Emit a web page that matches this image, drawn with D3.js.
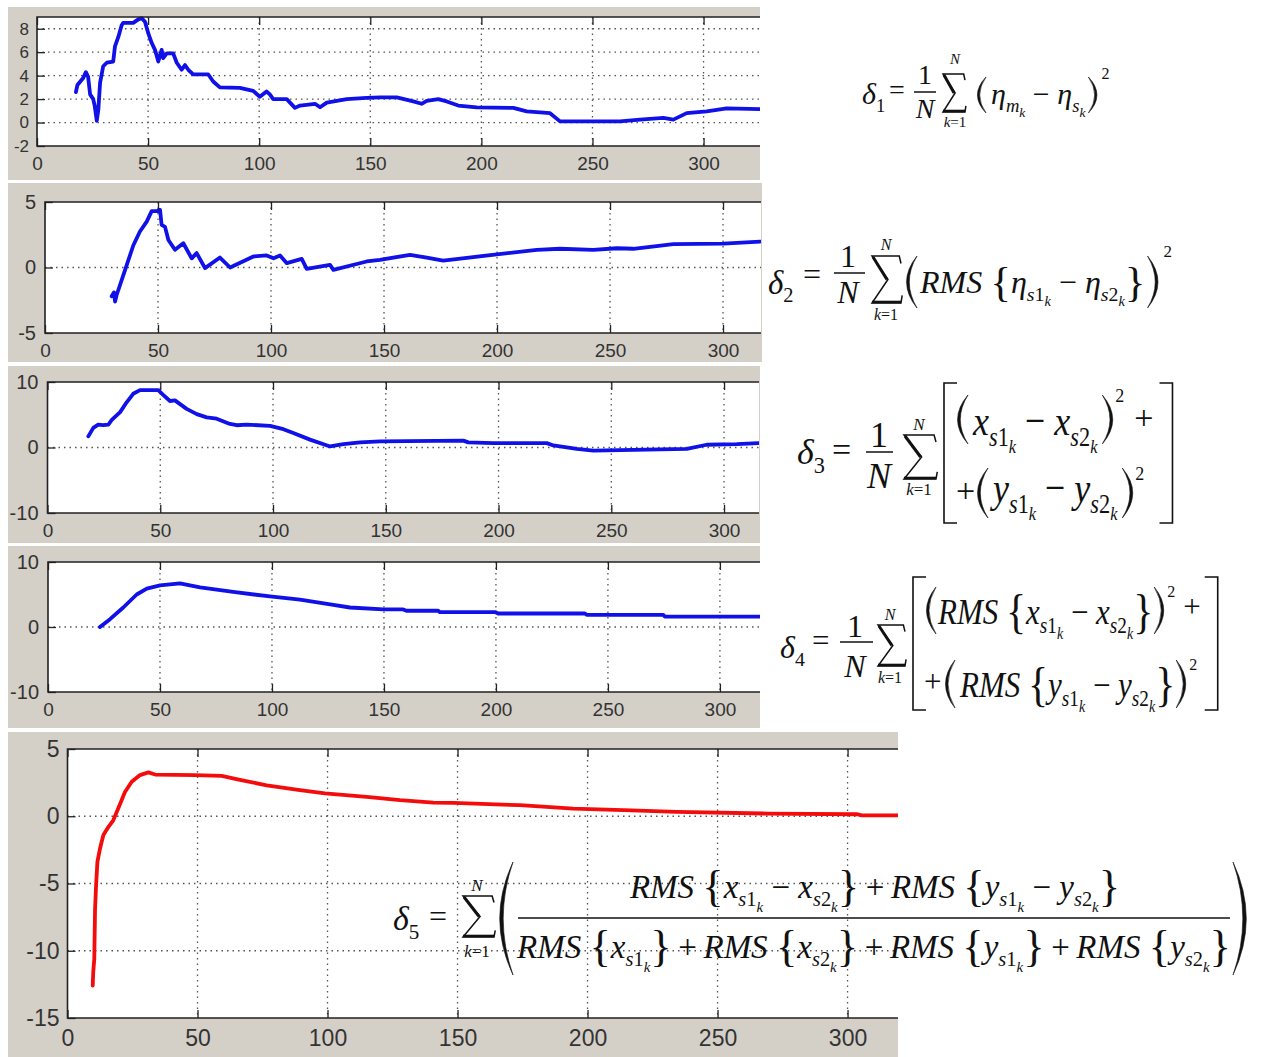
<!DOCTYPE html>
<html>
<head>
<meta charset="utf-8">
<script src="https://cdn.jsdelivr.net/npm/d3@7"></script>
<style>
  body { margin: 0; background: #fff; }
  svg { display: block; }
  .tick text { font-family: "Liberation Sans", Arial, sans-serif; fill: #333; }
  .tick line { stroke: #222; stroke-width: 1.3; }
  .math { font-family: "Liberation Serif", "Times New Roman", serif; fill: #111; white-space: pre; }
</style>
</head>
<body>
<svg id="chart" width="1263" height="1057"></svg>
<script>

// ---- values ----
const xTicks = [0, 50, 100, 150, 200, 250, 300]
const yTicks1 = [-2, 0, 2, 4, 6, 8]
const yTicks2 = [-5, 0, 5]
const yTicks3 = [-10, 0, 10]
const yTicks5 = [-15, -10, -5, 0, 5]

const delta1 = [[17.5,2.6],[18.2,3.2],[20.8,3.8],[22,4.3],[23,3.9],[23.9,2.4],[25.3,2.0],[26,1.4],[26.9,0.15],[27.6,1.1],[28.4,3.4],[29.8,4.8],[31.4,5.1],[34.3,5.2],[35.1,6.5],[36.6,7.3],[38.1,8.3],[38.8,8.5],[43.3,8.5],[45.6,8.8],[47.1,8.9],[48.6,8.6],[50.1,7.6],[51.6,6.8],[53.1,6.2],[54.6,5.2],[56.1,6.2],[56.8,5.5],[58.4,5.9],[61.3,5.9],[62.9,5.1],[65.1,4.5],[66.6,4.9],[68.1,4.5],[70.3,4.1],[77.1,4.1],[79.3,3.5],[82.3,3.0],[91.3,2.95],[97.3,2.7],[100.3,2.2],[103.3,2.65],[104.8,2.4],[106.3,2.0],[112.4,2.0],[116.1,1.25],[118.4,1.45],[125.1,1.6],[127.4,1.3],[130.4,1.7],[139.4,2.0],[148.4,2.1],[154.4,2.15],[161.9,2.15],[169.4,1.8],[173.1,1.6],[175.4,1.85],[180.6,2.0],[184.4,1.8],[189.6,1.45],[197.9,1.3],[214.4,1.25],[220.4,0.95],[230.9,0.8],[235.4,0.1],[262.4,0.1],[271.4,0.25],[281.9,0.4],[286.4,0.25],[292.4,0.8],[301.4,0.95],[310.4,1.2],[325.4,1.15]]

const delta2 = [[29.5,-2.2],[30.5,-1.9],[31,-2.6],[31.7,-2.1],[34.7,-0.56],[39.1,1.7],[42,2.75],[45,3.5],[47.2,4.3],[49.4,4.3],[50.9,4.4],[51.6,3.25],[53.1,3.1],[54.6,2.1],[57.5,1.35],[61.2,1.85],[64.9,0.7],[67.1,1.1],[70.8,-0.05],[77.4,0.76],[81.9,0],[92.2,0.84],[98.1,0.92],[101.1,0.7],[104,0.92],[107,0.33],[113.6,0.66],[115.8,-0.1],[126.1,0.2],[127.6,-0.18],[142.3,0.46],[148.2,0.59],[161.5,0.97],[168.9,0.76],[176.2,0.53],[199.9,1.0],[217.6,1.35],[227.9,1.43],[242.6,1.35],[253,1.47],[260.3,1.43],[278,1.78],[300.1,1.83],[316.4,1.98]]

const delta3 = [[18.1,1.7],[20.3,3.0],[22.5,3.5],[24.7,3.4],[27,3.5],[28.5,4.2],[32.2,5.4],[35.1,6.9],[38,8.2],[41,8.75],[49.1,8.75],[51.4,8.0],[54.3,7.1],[56.5,7.2],[61.7,5.9],[66.2,5.1],[70.6,4.6],[75,4.4],[80.9,3.6],[83.9,3.4],[88.3,3.5],[98.7,3.3],[104.6,2.8],[109,2.2],[116.4,1.2],[125.3,0.16],[131.2,0.5],[138.6,0.78],[147.5,0.94],[184.4,1.05],[186.6,0.78],[197.7,0.67],[221.4,0.67],[224.3,0.31],[234.7,-0.2],[242,-0.47],[259.8,-0.36],[283.5,-0.2],[292.3,0.42],[305.6,0.5],[315.2,0.67]]

const delta4 = [[23.2,0],[27.7,1.2],[33.6,3.0],[39.6,5.0],[44.1,5.9],[50,6.4],[58.9,6.7],[67.9,6.1],[82.7,5.4],[99.1,4.7],[112.5,4.2],[127.4,3.4],[134.8,3.0],[149.7,2.7],[158.6,2.7],[160,2.5],[174.2,2.5],[175,2.28],[199.6,2.3],[201,2.08],[239.7,2.08],[240.5,1.87],[274.7,1.87],[275.4,1.61],[317.9,1.61]]

const delta5 = [[9.7,-12.6],[9.9,-11.6],[10.3,-10.6],[10.6,-6.9],[11,-5.1],[11.5,-3.4],[12.5,-2.4],[13.8,-1.4],[15.7,-0.8],[17.6,-0.3],[19.5,0.57],[22.1,1.8],[24.7,2.56],[27.9,3.06],[31.1,3.26],[33.7,3.1],[49,3.06],[59.3,3.0],[66.3,2.7],[76.6,2.3],[89.4,1.94],[99,1.7],[115.1,1.44],[127.9,1.2],[140.7,1.02],[148.4,0.99],[174,0.82],[194.5,0.57],[213.8,0.45],[234.3,0.32],[268.9,0.2],[303.5,0.15],[305.5,0.07],[319.5,0.07]]

// ---- layout ----
const svg = d3.select('#chart')
const panelGray = '#d4d0c8'
const gridColor = '#555'
const blue = '#1010e8'
const red = '#f40c0c'

const panels = [
  {data: delta1, color: blue, yTicks: yTicks1, yDom: [-2, 9], xMax: 325.4,
    bg: [8, 7, 760, 180], box: [37, 17, 760, 146], fx: 19, fy: 17, padX: 11, padY: 8},
  {data: delta2, color: blue, yTicks: yTicks2, yDom: [-5, 5], xMax: 316.8,
    bg: [8, 183, 762, 362], box: [45, 202, 761, 333], fx: 19, fy: 20, padX: 11, padY: 9},
  {data: delta3, color: blue, yTicks: yTicks3, yDom: [-10, 10], xMax: 315.5,
    bg: [8, 366, 760, 543], box: [47.5, 382, 759, 513], fx: 19, fy: 20, padX: 11, padY: 9},
  {data: delta4, color: blue, yTicks: yTicks3, yDom: [-10, 10], xMax: 317.9,
    bg: [8, 546, 760, 728], box: [48, 562, 760, 692], fx: 19, fy: 20, padX: 11, padY: 9},
  {data: delta5, color: red, yTicks: yTicks5, yDom: [-15, 5], xMax: 319.4,
    bg: [8, 732, 898, 1057], box: [67.5, 749, 898, 1018], fx: 23, fy: 23, padX: 12, padY: 8}
]

function drawPanel(p, i) {
  const g = svg.append('g')
  const [bx0, by0, bx1, by1] = p.bg
  const [l, t, r, b] = p.box
  g.append('rect').attr('x', bx0).attr('y', by0).attr('width', bx1 - bx0).attr('height', by1 - by0)
    .attr('fill', panelGray)
  g.append('rect').attr('x', l).attr('y', t).attr('width', r - l).attr('height', b - t)
    .attr('fill', '#fff')

  const x = d3.scaleLinear().domain([0, p.xMax]).range([l, r])
  const y = d3.scaleLinear().domain(p.yDom).range([b, t])

  // dotted grid
  g.selectAll('.gx').data(xTicks.filter(v => v > 0 && v < p.xMax)).enter().append('line')
    .attr('x1', d => x(d)).attr('x2', d => x(d)).attr('y1', t).attr('y2', b)
    .attr('stroke', gridColor).attr('stroke-width', 1.3).attr('stroke-dasharray', '1.5,4')
  g.selectAll('.gy').data(p.yTicks.filter(v => v > p.yDom[0] && v < p.yDom[1])).enter().append('line')
    .attr('x1', l).attr('x2', r).attr('y1', d => y(d)).attr('y2', d => y(d))
    .attr('stroke', gridColor).attr('stroke-width', 1.3).attr('stroke-dasharray', '1.5,4')

  const clipId = 'clip' + i
  svg.append('clipPath').attr('id', clipId).append('rect')
    .attr('x', l).attr('y', t - 2).attr('width', r - l).attr('height', b - t + 4)

  const line = d3.line().x(d => x(d[0])).y(d => y(d[1]))
  g.append('path').datum(p.data)
    .attr('clip-path', 'url(#' + clipId + ')')
    .attr('fill', 'none').attr('stroke', p.color).attr('stroke-width', 3.8)
    .attr('stroke-linejoin', 'round').attr('stroke-linecap', 'round')
    .attr('d', line)

  const fmt = d => String(d)
  g.append('g').attr('transform', 'translate(0,' + b + ')')
    .call(d3.axisBottom(x).tickValues(xTicks).tickSize(-8).tickPadding(p.padX).tickFormat(fmt))
    .call(a => a.select('.domain').remove())
    .call(a => a.selectAll('text').attr('font-size', p.fx))
  g.append('g').attr('transform', 'translate(0,' + t + ')')
    .call(d3.axisTop(x).tickValues(xTicks).tickSize(-8).tickFormat(() => ''))
    .call(a => a.select('.domain').remove())
  g.append('g').attr('transform', 'translate(' + l + ',0)')
    .call(d3.axisLeft(y).tickValues(p.yTicks).tickSize(-8).tickPadding(p.padY).tickFormat(fmt))
    .call(a => a.select('.domain').remove())
    .call(a => a.selectAll('text').attr('font-size', p.fy))

  // axes box (right side is cut off in the screenshots)
  g.append('path')
    .attr('d', 'M' + r + ',' + t + 'H' + l + 'V' + b + 'H' + r)
    .attr('fill', 'none').attr('stroke', '#222').attr('stroke-width', 1.6)
}

panels.forEach(drawPanel)

// ---- formulas ----
const mathKinds = {
  i: {off: 0, sc: 1, it: true},
  n: {off: 0, sc: 1, it: false},
  s: {off: 0.25, sc: 0.62, it: true},
  d: {off: 0.25, sc: 0.62, it: false},
  k: {off: 0.42, sc: 0.45, it: true},
  b: {off: 0.1, sc: 1.35, it: false}
}

// returns right edge of the written text
function mathText(g, x, y, size, parts, anchor, sy) {
  const t = g.append('text').attr('class', 'math')
    .attr('transform', 'translate(' + x + ',' + y + ') scale(1,' + (sy || 1) + ')')
    .attr('font-size', size).attr('text-anchor', anchor || 'start')
  let cur = 0
  parts.forEach(([s, k]) => {
    const m = mathKinds[k]
    const off = m.off * size
    t.append('tspan').attr('dy', off - cur).attr('font-size', size * m.sc)
      .attr('font-style', m.it ? 'italic' : 'normal').text(s)
    cur = off
  })
  const bb = t.node().getBBox()
  return x + bb.x + bb.width
}

function paren(g, x, top, bot, w, open) {
  const mid = (top + bot) / 2
  const d = open
    ? 'M' + (x + w) + ',' + top + 'Q' + (x - w * 0.9) + ',' + mid + ' ' + (x + w) + ',' + bot +
      'Q' + (x - w * 0.4) + ',' + mid + ' ' + (x + w) + ',' + top + 'Z'
    : 'M' + x + ',' + top + 'Q' + (x + w * 1.9) + ',' + mid + ' ' + x + ',' + bot +
      'Q' + (x + w * 1.4) + ',' + mid + ' ' + x + ',' + top + 'Z'
  g.append('path').attr('d', d).attr('fill', '#111').attr('stroke', '#111').attr('stroke-width', 0.6)
}

function bracket(g, x, top, bot, w, open) {
  const d = open
    ? 'M' + (x + w) + ',' + top + 'H' + x + 'V' + bot + 'H' + (x + w)
    : 'M' + x + ',' + top + 'H' + (x + w) + 'V' + bot + 'H' + x
  g.append('path').attr('d', d).attr('fill', 'none').attr('stroke', '#111').attr('stroke-width', 1.6)
}

// summation sign drawn as strokes
function sigma(g, x0, x1, top, bot) {
  const w = x1 - x0, h = bot - top
  const xm = x0 + w * 0.55, ym = top + h * 0.5
  g.append('path')
    .attr('d', 'M' + x1 + ',' + (top + h * 0.16) + 'L' + (x1 - w * 0.06) + ',' + top + 'H' + x0 +
      'L' + xm + ',' + ym + 'L' + x0 + ',' + bot + 'H' + x1 + 'L' + (x1 + w * 0.04) + ',' + (bot - h * 0.16))
    .attr('fill', 'none').attr('stroke', '#111').attr('stroke-width', 1.5).attr('stroke-linejoin', 'miter')
  g.append('path')
    .attr('d', 'M' + (x0 + 1) + ',' + (top + 1) + 'L' + (xm - 1) + ',' + ym)
    .attr('stroke', '#111').attr('stroke-width', 3)
  g.append('path')
    .attr('d', 'M' + x0 + ',' + (bot - 1) + 'H' + x1)
    .attr('stroke', '#111').attr('stroke-width', 2.6)
}

function frac(g, cx, x0, x1, lineY, numBase, denBase, size) {
  mathText(g, cx, numBase, size, [['1', 'n']], 'middle')
  g.append('line').attr('x1', x0).attr('x2', x1).attr('y1', lineY).attr('y2', lineY)
    .attr('stroke', '#111').attr('stroke-width', 1.5)
  mathText(g, cx, denBase, size, [['N', 'i']], 'middle')
}

function sumLimits(g, cx, topBase, botBase, size) {
  mathText(g, cx, topBase, size, [['N', 'i']], 'middle')
  mathText(g, cx, botBase, size, [['k', 'i'], ['=1', 'n']], 'middle')
}

const sub = (v, n) => [[v, 'i'], ['s', 's'], [n, 'd'], ['k', 'k']]
const minus = [[' \u2212 ', 'n']]
const diff = v => [...sub(v, '1'), ...minus, ...sub(v, '2')]
const rms = inner => [['RMS', 'i'], [' ', 'n'], ['{', 'b'], ...inner, ['}', 'b']]
const plus = [['\u2009+\u2009', 'n']]

const fm = svg.append('g')
let e, e2

// delta 1
mathText(fm, 862, 104, 30, [['δ', 'i'], ['1', 'd']])
mathText(fm, 889, 99, 28, [['=', 'n']])
frac(fm, 925, 914, 936, 92, 84, 118, 28)
sigma(fm, 943, 965, 74, 112)
sumLimits(fm, 955, 64, 127, 15)
paren(fm, 977, 77, 113, 9, true)
e = mathText(fm, 991, 104, 30, [['η', 'i'], ['m', 's'], ['k', 'k'], ...minus, ['η', 'i'], ['s', 's'], ['k', 'k']])
paren(fm, e + 2, 77, 113, 9, false)
mathText(fm, e + 15, 79, 16, [['2', 'n']])

// delta 2
mathText(fm, 768, 294, 33, [['δ', 'i'], ['2', 'd']])
mathText(fm, 803, 285, 32, [['=', 'n']])
frac(fm, 848, 834, 865, 273, 267, 303, 32)
sigma(fm, 872, 901, 256, 303)
sumLimits(fm, 886, 250, 320, 16)
paren(fm, 906, 256, 308, 11, true)
e = mathText(fm, 920, 293, 32, rms(diff('η')))
paren(fm, e + 2, 256, 308, 11, false)
mathText(fm, e + 18, 257, 17, [['2', 'n']])

// delta 3
mathText(fm, 797, 464, 36, [['δ', 'i'], ['3', 'd']])
mathText(fm, 832, 461, 34, [['=', 'n']])
frac(fm, 879, 866, 893, 452, 447, 488, 36)
sigma(fm, 904, 936, 435, 479)
sumLimits(fm, 919, 430, 495, 17)
bracket(fm, 944, 383, 523, 13, true)
paren(fm, 957, 395, 444, 11, true)
e = mathText(fm, 973, 435, 36, diff('x'), 'start', 1.2)
paren(fm, e + 4, 395, 444, 11, false)
mathText(fm, e + 17, 402, 18, [['2', 'n']])
e = mathText(fm, e + 36, 429, 34, [['+', 'n']])
mathText(fm, 956, 502, 34, [['+', 'n']])
paren(fm, 977, 468, 518, 11, true)
e2 = mathText(fm, 993, 502, 36, diff('y'), 'start', 1.2)
paren(fm, e2 + 4, 468, 518, 11, false)
e2 = mathText(fm, e2 + 17, 480, 18, [['2', 'n']])
bracket(fm, Math.max(e, e2) + 6, 383, 523, 13, false)

// delta 4
mathText(fm, 780, 658, 32, [['δ', 'i'], ['4', 'd']])
mathText(fm, 812, 651, 31, [['=', 'n']])
frac(fm, 855, 840, 873, 642, 637, 677, 32)
sigma(fm, 878, 905, 625, 666)
sumLimits(fm, 890, 620, 683, 16)
bracket(fm, 913, 577, 710, 13, true)
paren(fm, 926, 587, 634, 10, true)
e = mathText(fm, 938, 624, 31, rms(diff('x')), 'start', 1.15)
paren(fm, e + 1, 587, 634, 10, false)
mathText(fm, e + 14, 597, 16, [['2', 'n']])
e = mathText(fm, e + 30, 617, 31, [['+', 'n']])
mathText(fm, 924, 692, 31, [['+', 'n']])
paren(fm, 945, 660, 708, 10, true)
e2 = mathText(fm, 960, 697, 31, rms(diff('y')), 'start', 1.15)
paren(fm, e2 + 1, 660, 708, 10, false)
e2 = mathText(fm, e2 + 14, 670, 16, [['2', 'n']])
bracket(fm, Math.max(e, e2) + 4, 577, 710, 13, false)

// delta 5
mathText(fm, 393, 930, 34, [['δ', 'i'], ['5', 'd']])
mathText(fm, 429, 927, 32, [['=', 'n']])
sigma(fm, 463, 494, 896, 937)
sumLimits(fm, 477, 891, 957, 17)
paren(fm, 499, 862, 975, 14, true)
fm.append('line').attr('x1', 518).attr('x2', 1230).attr('y1', 918).attr('y2', 918)
  .attr('stroke', '#111').attr('stroke-width', 1.5)
mathText(fm, 875, 898, 33, [...rms(diff('x')), ...plus, ...rms(diff('y'))], 'middle')
mathText(fm, 874, 958, 33, [...rms(sub('x', '1')), ...plus, ...rms(sub('x', '2')), ...plus,
  ...rms(sub('y', '1')), ...plus, ...rms(sub('y', '2'))], 'middle')
paren(fm, 1233, 862, 975, 14, false)

</script>
</body>
</html>
